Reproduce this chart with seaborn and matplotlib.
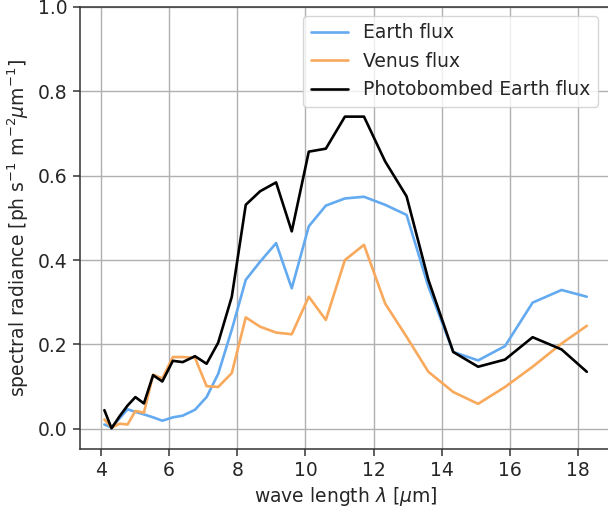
import matplotlib
matplotlib.use("Agg")
import matplotlib.pyplot as plt
import seaborn as sns
import pandas as pd

wavelength = [4.10, 4.31, 4.55, 4.78, 5.01, 5.26, 5.53, 5.80, 6.11, 6.40, 6.76,
              7.10, 7.44, 7.84, 8.25, 8.67, 9.14, 9.60, 10.10, 10.60, 11.16,
              11.72, 12.34, 12.97, 13.61, 14.34, 15.07, 15.86, 16.67, 17.52, 18.26]

earth_flux = [0.010, 0.003, 0.025, 0.046, 0.040, 0.034, 0.027, 0.019, 0.027, 0.031, 0.045,
              0.075, 0.130, 0.235, 0.353, 0.396, 0.440, 0.333, 0.480, 0.529, 0.546,
              0.550, 0.531, 0.507, 0.337, 0.182, 0.162, 0.196, 0.299, 0.329, 0.313]

venus_flux = [0.022, 0.003, 0.012, 0.010, 0.042, 0.038, 0.128, 0.119, 0.170, 0.170, 0.168,
              0.101, 0.099, 0.132, 0.264, 0.242, 0.228, 0.224, 0.313, 0.258, 0.400,
              0.436, 0.297, 0.218, 0.135, 0.087, 0.059, 0.099, 0.147, 0.202, 0.244]

photobombed_flux = [0.044, 0.001, 0.030, 0.055, 0.075, 0.060, 0.127, 0.112, 0.161, 0.158, 0.172,
                    0.154, 0.204, 0.313, 0.531, 0.563, 0.584, 0.468, 0.657, 0.664, 0.740,
                    0.740, 0.634, 0.551, 0.353, 0.182, 0.147, 0.164, 0.217, 0.188, 0.135]

series_names = ["Earth flux", "Venus flux", "Photobombed Earth flux"]
series_colors = ["#63aaf0", "#f8a95c", "#000000"]
x_ticks = [4, 6, 8, 10, 12, 14, 16, 18]
y_ticks = [0.0, 0.2, 0.4, 0.6, 0.8, 1.0]

frames = []
for name, vals in zip(series_names, [earth_flux, venus_flux, photobombed_flux]):
    frames.append(pd.DataFrame({"wl": wavelength, "flux": vals, "series": name}))
df = pd.concat(frames, ignore_index=True)

sns.set_style("ticks")
plt.rcParams["font.family"] = ["DejaVu Sans"]
FS = 13.5
plt.rcParams["font.size"] = FS

fig = plt.figure(figsize=(6.08, 5.13), dpi=100)
ax = fig.add_axes([0.1319, 0.1248, 0.873, 0.8616])

sns.lineplot(data=df, x="wl", y="flux", hue="series", hue_order=series_names,
             palette=dict(zip(series_names, series_colors)), linewidth=1.9,
             ax=ax, legend=True)

ax.set_xlim(3.39, 18.97)
ax.set_ylim(-0.048, 1.0)
ax.set_xticks(x_ticks)
ax.set_yticks(y_ticks)
ax.set_xticklabels([str(t) for t in x_ticks], fontsize=FS)
ax.set_yticklabels([f"{t:.1f}" for t in y_ticks], fontsize=FS)
ax.grid(True, color="#b0b0b0", linewidth=1.0)
ax.set_axisbelow(True)
for s in ax.spines.values():
    s.set_color("#333333")
    s.set_linewidth(1.1)
ax.tick_params(direction="out", length=5, width=1.1, color="#333333", pad=4)

ax.set_xlabel(r"wave length $\lambda$ [$\mu$m]", fontsize=FS, labelpad=3)
ax.set_ylabel(r"spectral radiance [ph s$^{-1}$ m$^{-2}\mu$m$^{-1}$]", fontsize=FS, labelpad=5)

leg = ax.legend(loc="upper right", fontsize=FS, frameon=True,
                bbox_to_anchor=(0.9755, 0.9796), borderaxespad=0.0)
leg.get_frame().set_edgecolor("#cccccc")
for line in leg.get_lines():
    line.set_linewidth(1.9)
leg.set_title(None)

fig.savefig("out.png", dpi=100)
